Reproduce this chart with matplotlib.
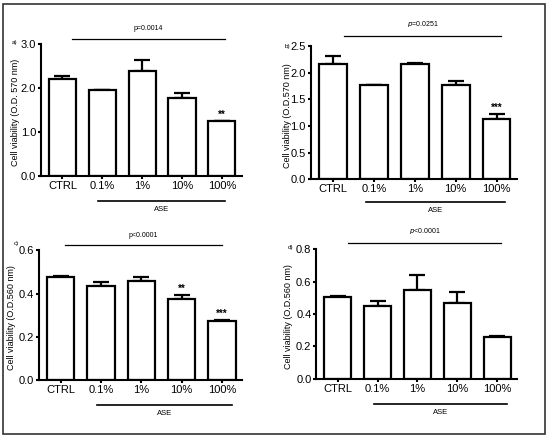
import matplotlib
matplotlib.use("Agg")
import matplotlib.pyplot as plt
from matplotlib.patches import Rectangle

plt.rcParams['font.family'] = ['Liberation Sans', 'DejaVu Sans']

# data
groups = ['CTRL', '0.1%', '1%', '10%', '100%']

vals_a = [2.20, 1.95, 2.38, 1.77, 1.25]
err_a = [0.08, 0.0, 0.25, 0.12, 0.0]
stars_a = ['', '', '', '', '**']

vals_b = [2.17, 1.78, 2.16, 1.77, 1.13]
err_b = [0.15, 0.0, 0.02, 0.07, 0.09]
stars_b = ['', '', '', '', '***']

vals_c = [0.478, 0.437, 0.457, 0.377, 0.273]
err_c = [0.005, 0.015, 0.02, 0.015, 0.003]
stars_c = ['', '', '', '**', '***']

vals_d = [0.503, 0.452, 0.548, 0.470, 0.258]
err_d = [0.005, 0.03, 0.09, 0.063, 0.008]
stars_d = ['', '', '', '', '']

fig = plt.figure(figsize=(5.5, 4.37), dpi=100)

# frame around the whole figure
fig.patches.append(Rectangle((0.006, 0.006), 0.985, 0.984, transform=fig.transFigure,
                             fill=False, edgecolor='#333333', linewidth=1.2))


def panel(rect, vals, errs, stars, ymax, ystep, ylabel, ptext, tag, p_italic,
          top_line, ase_line, lab_x, tag_xy):
    ax = fig.add_axes(rect)
    x = range(len(groups))
    ax.bar(x, vals, width=0.68, color='white', edgecolor='black', linewidth=1.6, zorder=2)
    ax.errorbar(x, vals, yerr=[[0] * len(errs), errs], fmt='none', ecolor='black',
                elinewidth=1.6, capsize=5.5, capthick=1.6, zorder=1)
    for i, s in enumerate(stars):
        if s:
            ax.text(i, vals[i] + errs[i] + ymax * 0.01, s, ha='center', va='bottom',
                    fontsize=7, fontweight='bold')
    ax.set_xlim(-0.54, 4.5)
    ax.set_ylim(0, ymax)
    n = int(round(ymax / ystep))
    ticks = [ystep * k for k in range(n + 1)]
    ax.set_yticks(ticks)
    ax.set_yticklabels(['%.1f' % t for t in ticks])
    ax.set_xticks(list(x))
    ax.set_xticklabels(groups)
    for side in ['top', 'right']:
        ax.spines[side].set_visible(False)
    for side in ['left', 'bottom']:
        ax.spines[side].set_linewidth(1.5)
    ax.tick_params(direction='out', length=2.5, width=1.5, labelsize=8, pad=1)
    ax.set_ylabel(ylabel, fontsize=6.5)
    ax.yaxis.set_label_coords(lab_x, 0.48)

    tr = ax.get_xaxis_transform()
    x0, x1, yl = top_line
    ax.plot([x0, x1], [yl, yl], color='black', linewidth=0.9, transform=tr, clip_on=False)
    if p_italic:
        ptxt = r'$\it{p}$' + ptext
    else:
        ptxt = 'p' + ptext
    ax.text((x0 + x1) / 2, yl + 0.05, ptxt, transform=tr, ha='center', va='bottom',
            fontsize=5)
    x0, x1, yl = ase_line
    ax.plot([x0, x1], [yl, yl], color='black', linewidth=1.2, transform=tr, clip_on=False)
    ax.text((x0 + x1) / 2, yl - 0.04, 'ASE', transform=tr, ha='center', va='top',
            fontsize=5.5)
    ax.text(tag_xy[0], tag_xy[1], tag, transform=ax.transAxes, ha='center', va='center',
            fontsize=4.5)
    return ax


panel([0.0745, 0.597, 0.365, 0.302], vals_a, err_a, stars_a, 3.0, 1.0,
      'Cell viability (O.D. 570 nm)', '=0.0014', 'a)', False,
      (0.24, 4.07, 1.04), (0.89, 4.07, -0.19), -0.104, (-0.134, 1.01))
panel([0.565, 0.590, 0.375, 0.304], vals_b, err_b, stars_b, 2.5, 0.5,
      'Cell viability (O.D.570 nm)', '=0.0251', 'b)', True,
      (0.28, 4.1, 1.08), (0.8, 4.2, -0.17), -0.092, (-0.112, 1.0))
panel([0.071, 0.130, 0.369, 0.297], vals_c, err_c, stars_c, 0.6, 0.2,
      'Cell viability (O.D.560 nm)', '<0.0001', 'c)', False,
      (0.1, 4.0, 1.04), (0.89, 4.25, -0.19), -0.113, (-0.11, 1.05))
panel([0.575, 0.133, 0.365, 0.297], vals_d, err_d, stars_d, 0.8, 0.2,
      'Cell viability (O.D.560 nm)', '<0.0001', 'd)', True,
      (0.25, 4.1, 1.05), (0.9, 4.25, -0.19), -0.114, (-0.13, 1.01))

fig.savefig('out.png', dpi=100)
